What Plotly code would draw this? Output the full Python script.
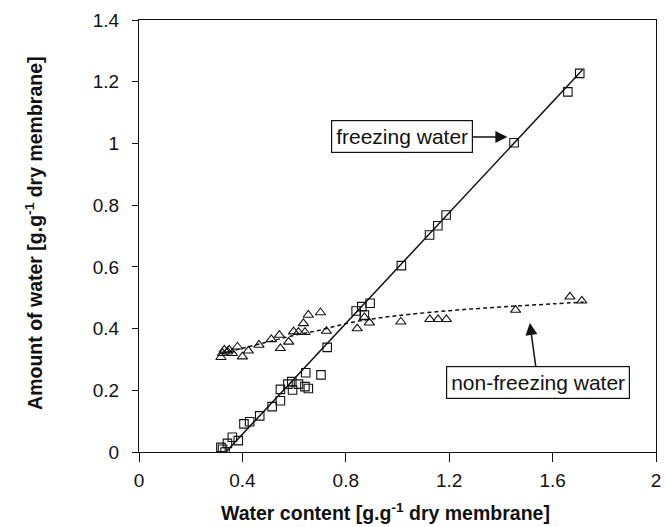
import plotly.graph_objects as go

# Freezing water (open squares)
fz_x = [0.317, 0.323, 0.333, 0.342, 0.361, 0.384, 0.406, 0.428, 0.467, 0.515,
        0.547, 0.547, 0.576, 0.591, 0.594, 0.617, 0.642, 0.655, 0.645, 0.704,
        0.728, 0.840, 0.862, 0.872, 0.894, 1.015, 1.124, 1.156, 1.188, 1.451,
        1.659, 1.705]
fz_y = [0.015, 0.009, 0.000, 0.028, 0.048, 0.037, 0.091, 0.098, 0.117, 0.147,
        0.166, 0.203, 0.220, 0.228, 0.201, 0.220, 0.212, 0.206, 0.257, 0.250,
        0.339, 0.457, 0.471, 0.444, 0.482, 0.604, 0.703, 0.733, 0.768, 1.002,
        1.167, 1.227]

# Non-freezing water (open triangles)
nf_x = [0.317, 0.323, 0.330, 0.342, 0.349, 0.361, 0.381, 0.400, 0.423, 0.464,
        0.512, 0.543, 0.547, 0.579, 0.598, 0.617, 0.642, 0.636, 0.655, 0.702,
        0.725, 0.844, 0.872, 0.891, 1.013, 1.125, 1.157, 1.189, 1.457, 1.667,
        1.713]
nf_y = [0.307, 0.320, 0.331, 0.325, 0.331, 0.320, 0.341, 0.309, 0.328, 0.347,
        0.365, 0.379, 0.336, 0.357, 0.390, 0.388, 0.388, 0.417, 0.444, 0.452,
        0.392, 0.400, 0.436, 0.419, 0.422, 0.430, 0.430, 0.430, 0.460, 0.503,
        0.490]

# Fitted lines
fz_fit_x = [0.336, 1.715]
fz_fit_y = [0.000, 1.238]
nf_fit_x = [0.32, 0.40, 0.50, 0.60, 0.70, 0.80, 0.90, 1.00, 1.20, 1.40, 1.60, 1.72]
nf_fit_y = [0.318, 0.336, 0.357, 0.378, 0.395, 0.416, 0.431, 0.442, 0.458, 0.470,
            0.480, 0.486]

x_ticks = [0, 0.4, 0.8, 1.2, 1.6, 2]
x_tick_text = ["0", "0.4", "0.8", "1.2", "1.6", "2"]
y_ticks = [0, 0.2, 0.4, 0.6, 0.8, 1, 1.2, 1.4]
y_tick_text = ["0", "0.2", "0.4", "0.6", "0.8", "1", "1.2", "1.4"]

INK = "#111111"
FONT = "Liberation Sans"

fig = go.Figure()
fig.add_trace(go.Scatter(x=fz_fit_x, y=fz_fit_y, mode="lines",
                         line=dict(color=INK, width=1.5), hoverinfo="skip"))
fig.add_trace(go.Scatter(x=nf_fit_x, y=nf_fit_y, mode="lines",
                         line=dict(color=INK, width=1.5, dash="4px,3px", shape="spline"),
                         hoverinfo="skip"))
fig.add_trace(go.Scatter(x=fz_x, y=fz_y, mode="markers", name="freezing water",
                         marker=dict(symbol="square-open", size=8.5, color=INK,
                                     line=dict(width=1.1, color=INK))))
fig.add_trace(go.Scatter(x=nf_x, y=nf_y, mode="markers", name="non-freezing water",
                         marker=dict(symbol="triangle-up-open", size=9, color=INK,
                                     line=dict(width=1.1, color=INK))))

axis_common = dict(showgrid=False, zeroline=False, showline=True, linecolor=INK,
                   linewidth=1.3, mirror=True, ticks="outside", tickcolor=INK,
                   tickwidth=1.3, tickfont=dict(family=FONT, size=19, color=INK))
fig.update_xaxes(range=[0, 2], tickvals=x_ticks, ticktext=x_tick_text, ticklen=9,
                 ticklabelstandoff=2, **axis_common)
fig.update_yaxes(range=[0, 1.4], tickvals=y_ticks, ticktext=y_tick_text, ticklen=6,
                 ticklabelstandoff=9, **axis_common)

arrow_style = dict(showarrow=True, arrowhead=2, arrowsize=1.6, arrowwidth=1.5,
                   arrowcolor=INK)
annotations = [
    # axis titles
    dict(xref="paper", yref="paper", x=0.477, y=-0.139, showarrow=False,
         text="<b>Water content [g.g<sup>-1</sup> dry membrane]</b>",
         font=dict(family=FONT, size=19.5, color=INK), xanchor="center", yanchor="middle"),
    dict(xref="paper", yref="paper", x=-0.203, y=0.505, showarrow=False, textangle=-90,
         text="<b>Amount of water [g.g<sup>-1</sup> dry membrane]</b>",
         font=dict(family=FONT, size=19.5, color=INK), xanchor="center", yanchor="middle"),
    # boxed labels with pointer arrows
    dict(x=1.425, y=1.021, ax=-105, ay=0, text="freezing water",
         font=dict(family=FONT, size=21, color=INK), bordercolor=INK, borderwidth=1.2,
         borderpad=4, bgcolor="white", **arrow_style),
    dict(x=1.512, y=0.418, ax=8, ay=59, text="non-freezing water",
         font=dict(family=FONT, size=21, color=INK), bordercolor=INK, borderwidth=1.2,
         borderpad=4, bgcolor="white", **arrow_style),
]

fig.update_layout(width=667, height=527, margin=dict(l=139, r=6, t=20, b=75),
                  paper_bgcolor="white", plot_bgcolor="white", showlegend=False,
                  annotations=annotations, font=dict(family=FONT, color=INK))

fig.write_html("out.html")
